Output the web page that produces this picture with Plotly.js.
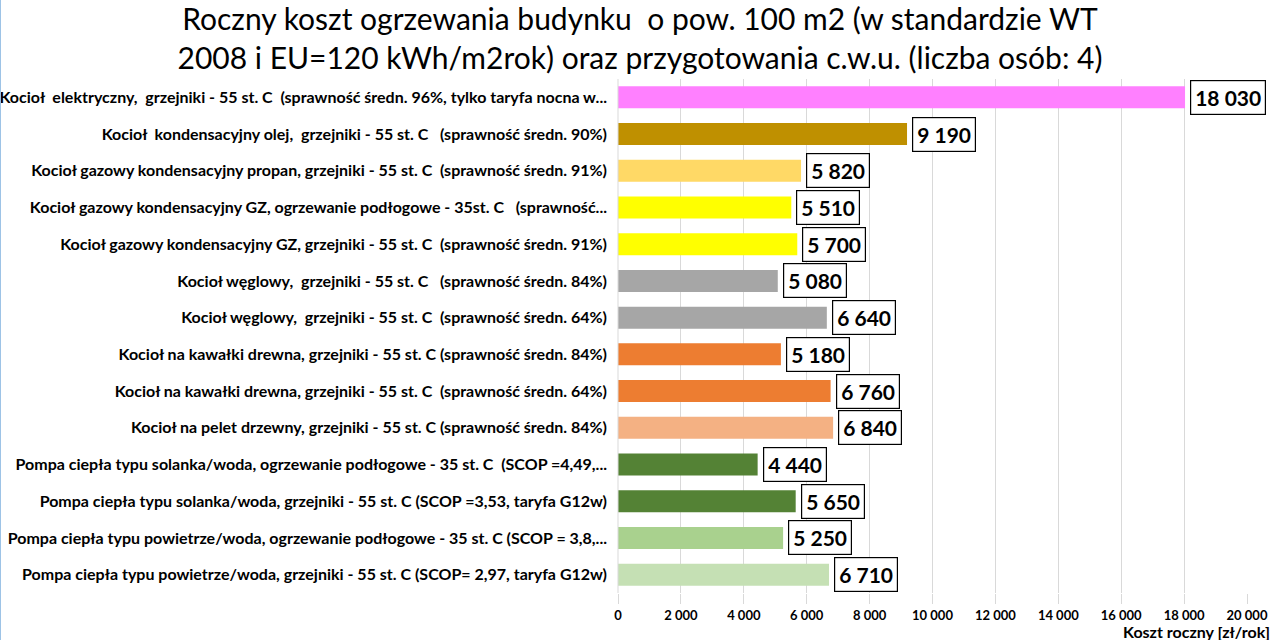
<!DOCTYPE html>
<html>
<head>
<meta charset="utf-8">
<script src="https://cdn.plot.ly/plotly-3.0.1.min.js"></script>
<style>html,body{margin:0;padding:0;background:#fff;}#chart{width:1280px;height:640px;}</style>
</head>
<body>
<div id="chart"></div>
<script>
const categories = [
  "Kocioł  elektryczny,  grzejniki - 55 st. C  (sprawność średn. 96%, tylko taryfa nocna w...",
  "Kocioł  kondensacyjny olej,  grzejniki - 55 st. C   (sprawność średn. 90%)",
  "Kocioł gazowy kondensacyjny propan, grzejniki - 55 st. C  (sprawność średn. 91%)",
  "Kocioł gazowy kondensacyjny GZ, ogrzewanie podłogowe - 35st. C   (sprawność...",
  "Kocioł gazowy kondensacyjny GZ, grzejniki - 55 st. C  (sprawność średn. 91%)",
  "Kocioł węglowy,  grzejniki - 55 st. C   (sprawność średn. 84%)",
  "Kocioł węglowy,  grzejniki - 55 st. C  (sprawność średn. 64%)",
  "Kocioł na kawałki drewna, grzejniki - 55 st. C (sprawność średn. 84%)",
  "Kocioł na kawałki drewna, grzejniki - 55 st. C  (sprawność średn. 64%)",
  "Kocioł na pelet drzewny, grzejniki - 55 st. C (sprawność średn. 84%)",
  "Pompa ciepła typu solanka/woda, ogrzewanie podłogowe - 35 st. C  (SCOP =4,49,...",
  "Pompa ciepła typu solanka/woda, grzejniki - 55 st. C (SCOP =3,53, taryfa G12w)",
  "Pompa ciepła typu powietrze/woda, ogrzewanie podłogowe - 35 st. C (SCOP = 3,8,...",
  "Pompa ciepła typu powietrze/woda, grzejniki - 55 st. C (SCOP= 2,97, taryfa G12w)"
];
const costs = [18030, 9190, 5820, 5510, 5700, 5080, 6640, 5180, 6760, 6840, 4440, 5650, 5250, 6710];
const valueLabels = ["18 030", "9 190", "5 820", "5 510", "5 700", "5 080", "6 640", "5 180", "6 760", "6 840", "4 440", "5 650", "5 250", "6 710"];
const barColors = ["#FF80FF", "#BF9000", "#FFD966", "#FFFF00", "#FFFF00", "#A6A6A6", "#A6A6A6", "#ED7D31", "#ED7D31", "#F4B183", "#548235", "#548235", "#A9D18E", "#C5E0B4"];
const tickVals = [0, 2000, 4000, 6000, 8000, 10000, 12000, 14000, 16000, 18000, 20000];
const tickText = ["0", "2 000", "4 000", "6 000", "8 000", "10 000", "12 000", "14 000", "16 000", "18 000", "20 000"];

const FONT = "Lato, 'Open Sans', sans-serif";

const trace = {
  type: "bar",
  orientation: "h",
  x: costs,
  y: categories,
  marker: {color: barColors, line: {width: 0}},
  width: 0.6,
  hoverinfo: "skip"
};

const annotations = costs.map((v, i) => ({
  x: v, y: categories[i], xref: "x", yref: "y",
  text: "<b>" + valueLabels[i] + "</b>",
  showarrow: false, xanchor: "left", yanchor: "middle",
  xshift: 5,
  font: {family: FONT, size: 21, color: "#000"},
  bgcolor: "#fff", bordercolor: "#000", borderwidth: 1.2, borderpad: 4
}));

annotations.push({
  xref: "paper", yref: "paper", x: 1.04, y: 0, yshift: -38,
  xanchor: "right", yanchor: "middle",
  text: "<b>Koszt roczny [zł/rok]</b>", showarrow: false,
  font: {family: FONT, size: 16, color: "#000"}
});

const layout = {
  width: 1280, height: 640,
  margin: {l: 618, r: 33, t: 79, b: 47, pad: 0},
  paper_bgcolor: "#fff", plot_bgcolor: "#fff",
  showlegend: false,
  bargap: 0.4,
  title: {
    text: "Roczny koszt ogrzewania budynku  o pow. 100 m2 (w standardzie WT<br>2008 i EU=120 kWh/m2rok) oraz przygotowania c.w.u. (liczba osób: 4)",
    font: {family: FONT, size: 30, color: "#000"},
    x: 0.5, xanchor: "center", y: 1 - 30/640, yanchor: "middle", yref: "container"
  },
  xaxis: {
    range: [0, 20000],
    tickvals: tickVals, ticktext: tickText,
    tickfont: {family: FONT, size: 13, color: "#000", weight: "bold"},
    showgrid: true, gridcolor: "#D9D9D9", gridwidth: 1,
    zeroline: false, showline: false,
    ticks: "outside", ticklen: 10, tickcolor: "#D9D9D9",
    fixedrange: true
  },
  yaxis: {
    autorange: "reversed",
    tickfont: {family: FONT, size: 16, color: "#000", weight: "bold"},
    ticks: "", showline: false, showgrid: false, zeroline: false,
    ticklabelstandoff: 10,
    fixedrange: true
  },
  annotations: annotations,
  shapes: [
    {type: "line", xref: "paper", yref: "paper", x0: 0, x1: 0, y0: 0, y1: 1, line: {color: "#D9D9D9", width: 1}},
    {type: "line", xref: "paper", yref: "paper", x0: -618/629, x1: -618/629, y0: -47/514, y1: 1 + 79/514, line: {color: "#9DC3E6", width: 2}}
  ]
};

Plotly.newPlot("chart", [trace], layout, {displayModeBar: false, staticPlot: true});
</script>
</body>
</html>
